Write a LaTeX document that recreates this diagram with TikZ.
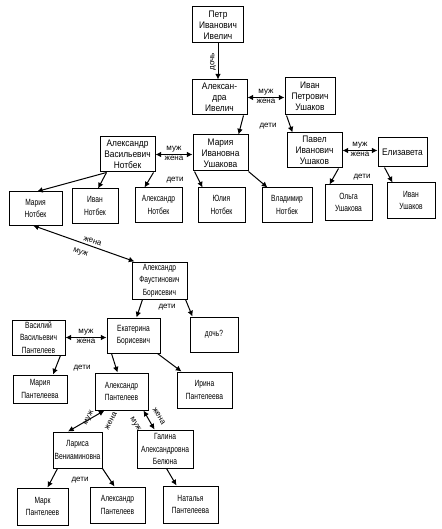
\documentclass[tikz,border=0pt]{standalone}
\usepackage{fontspec}
\setmainfont{Liberation Sans}
\newfontfamily\narrowfont{Liberation Sans}[FakeStretch=0.74]
\newfontfamily\midfont{Liberation Sans}[FakeStretch=0.88]
\usetikzlibrary{arrows.meta,positioning}
\tikzset{>={Latex[width=2mm,length=2mm]}}
\tikzset{person/.style={shape=rectangle, draw, line width=1pt, align=center,
    inner sep=1pt, font=\narrowfont\fontsize{9}{12.5}\selectfont}}
\tikzset{bigperson/.style={person, font=\midfont\fontsize{9.5}{11}\selectfont}}
\tikzset{rel/.style={font=\fontsize{8}{9}\selectfont, inner sep=1.5pt}}
\tikzset{link/.style={draw=black, line width=1pt}}

\begin{document}
\begin{tikzpicture}[x=1pt, y=-1pt]
    \useasboundingbox (0,0) rectangle (441,529);

    % first generations
    \node(pIvelich)[bigperson] [minimum width=51, minimum height=36] at (218,25) {Петр\\Иванович\\Ивелич};
    \node(aIvelich)[bigperson] [minimum width=55, minimum height=35] at (219.5,97.5) {Алексан-\\дра\\Ивелич};
    \node(iUshakov)[bigperson] [minimum width=50, minimum height=37] at (310,96.5) {Иван\\Петрович\\Ушаков};

    \node(aNotbek)[bigperson] [minimum width=55, minimum height=35] at (127.5,154.5) {Александр\\Васильевич\\Нотбек};
    \node(mUshakova)[bigperson] [minimum width=55, minimum height=36] at (220.5,153) {Мария\\Ивановна\\Ушакова};
    \node(pUshakov)[bigperson] [minimum width=55, minimum height=35] at (314.5,150.5) {Павел\\Иванович\\Ушаков};
    \node(elizaveta)[bigperson] [minimum width=49, minimum height=29] at (402.5,152.5) {Елизавета};

    \node(mNotbek)[person] [minimum width=53, minimum height=33] at (35.5,208.5) {Мария\\Нотбек};
    \node(iNotbek)[person] [minimum width=46, minimum height=34] at (95,206) {Иван\\Нотбек};
    \node(aNotbekJr)[person] [minimum width=47, minimum height=34] at (158.5,205) {Александр\\Нотбек};
    \node(yNotbek)[person] [minimum width=47, minimum height=34] at (221.5,205) {Юлия\\Нотбек};
    \node(vNotbek)[person] [minimum width=50, minimum height=34] at (287,205) {Владимир\\Нотбек};
    \node(oUshakova)[person] [minimum width=47, minimum height=35] at (348.5,202.5) {Ольга\\Ушакова};
    \node(iUshakovJr)[person] [minimum width=48, minimum height=35] at (411,200.5) {Иван\\Ушаков};

    % lower part
    \node(aBorisevich)[person] [minimum width=55, minimum height=37] at (159.5,280.5) {Александр\\Фаустинович\\Борисевич};
    \node(vPanteleev)[person] [minimum width=53, minimum height=35] at (38.5,337.5) {Василий\\Васильевич\\Пантелеев};
    \node(eBorisevich)[person] [minimum width=53, minimum height=35] at (133.5,335.5) {Екатерина\\Борисевич};
    \node(doch)[person] [minimum width=48, minimum height=35] at (214,334.5) {дочь?};

    \node(mPanteleeva)[person] [minimum width=54, minimum height=28] at (40,389) {Мария\\Пантелеева};
    \node(aPanteleev)[person] [minimum width=53, minimum height=37] at (121.5,391.5) {Александр\\Пантелеев};
    \node(iPanteleeva)[person] [minimum width=55, minimum height=36] at (204.5,390) {Ирина\\Пантелеева};

    \node(lVeniam)[person] [minimum width=49, minimum height=36] at (77.5,450) {Лариса\\Вениаминовна};
    \node(gBelyuna)[person] [minimum width=56, minimum height=38] at (165,449) {Галина\\Александровна\\Белюна};

    \node(mPant)[person] [minimum width=51, minimum height=37] at (42.5,506.5) {Марк\\Пантелеев};
    \node(aPantJr)[person] [minimum width=55, minimum height=36] at (117.5,505) {Александр\\Пантелеев};
    \node(nPant)[person] [minimum width=55, minimum height=37] at (190.5,504.5) {Наталья\\Пантелеева};

    \node(deti1)[rel] at (268,126) {дети};
    \node(deti2)[rel] at (175,180) {дети};
    \node(deti3)[rel] at (362,177) {дети};
    \node(deti4)[rel] at (167,307) {дети};
    \node(deti5)[rel] at (82,368) {дети};
    \node(deti6)[rel] at (80,480) {дети};

    \draw [->][link] (pIvelich.south) to node [rel, rotate=90, anchor=south] {дочь} (aIvelich.north -| pIvelich.south);

    \draw [<->][link] (aIvelich.east) to node [rel, above] {муж} node [rel, below] {жена} (aIvelich.east -| iUshakov.west);
    \draw [->][link] ([xshift=-4]aIvelich.south east) to ([xshift=-10]mUshakova.north east);
    \draw [->][link] ([xshift=2]iUshakov.south west) to ([xshift=6]pUshakov.north west);

    \draw [<->][link] (aNotbek.east) to node [rel, above] {муж} node [rel, below] {жена} (aNotbek.east -| mUshakova.west);
    \draw [->][link] ([xshift=7]aNotbek.south west) to ([xshift=1.5]mNotbek.north);
    \draw [->][link] ([xshift=7]aNotbek.south west) to ([xshift=3]iNotbek.north);
    \draw [->][link] ([xshift=-2]aNotbek.south east) to ([xshift=10]aNotbekJr.north west);
    \draw [->][link] ([xshift=2]mUshakova.south west) to ([xshift=5]yNotbek.north west);
    \draw [->][link] (mUshakova.south east) to ([xshift=6]vNotbek.north west);

    \draw [<->][link] (pUshakov.east) to node [rel, above] {муж} node [rel, below] {жена} (pUshakov.east -| elizaveta.west);
    \draw [->][link] ([xshift=-4]pUshakov.south east) to ([xshift=5]oUshakova.north west);
    \draw [->][link] ([xshift=7]elizaveta.south west) to ([xshift=6]iUshakovJr.north west);

    \draw [<->][link] ([xshift=-2.5]mNotbek.south) to node [rel, sloped, above=1pt, pos=0.57] {жена} node [rel, sloped, below=5pt, pos=0.5] {муж} ([xshift=3]aBorisevich.north west);
    \draw [->][link] ([xshift=11]aBorisevich.south west) to ([xshift=30]eBorisevich.north west);
    \draw [->][link] ([xshift=-2]aBorisevich.south east) to ([xshift=3]doch.north west);

    \draw [<->][link] (vPanteleev.east) to node [rel, above] {муж} node [rel, below] {жена} (vPanteleev.east -| eBorisevich.west);
    \draw [->][link] ([xshift=-5]vPanteleev.south east) to ([xshift=13]mPanteleeva.north);
    \draw [->][link] ([xshift=5]eBorisevich.south west) to ([xshift=23]aPanteleev.north west);
    \draw [->][link] ([xshift=-3]eBorisevich.south east) to ([xshift=5]iPanteleeva.north west);

    % short arrows to the spouses
    \draw [<->][link] ([xshift=10]aPanteleev.south west) to ([xshift=15.5]lVeniam.north west);
    \draw [<->][link] ([xshift=-5]aPanteleev.south east) to ([xshift=18]gBelyuna.north west);
    \node(muzh1)[rel, rotate=62] at (89,418) {муж};
    \node(zhena1)[rel, rotate=62] at (111,421) {жена};
    \node(muzh2)[rel, rotate=-59] at (135,424) {муж};
    \node(zhena2)[rel, rotate=-59] at (159,416) {жена};

    \draw [->][link] ([xshift=5]lVeniam.south west) to ([xshift=31]mPant.north west);
    \draw [->][link] (lVeniam.south east) to ([xshift=25]aPantJr.north west);
    \draw [->][link] ([xshift=30]gBelyuna.south west) to ([xshift=14]nPant.north west);
\end{tikzpicture}
\end{document}
